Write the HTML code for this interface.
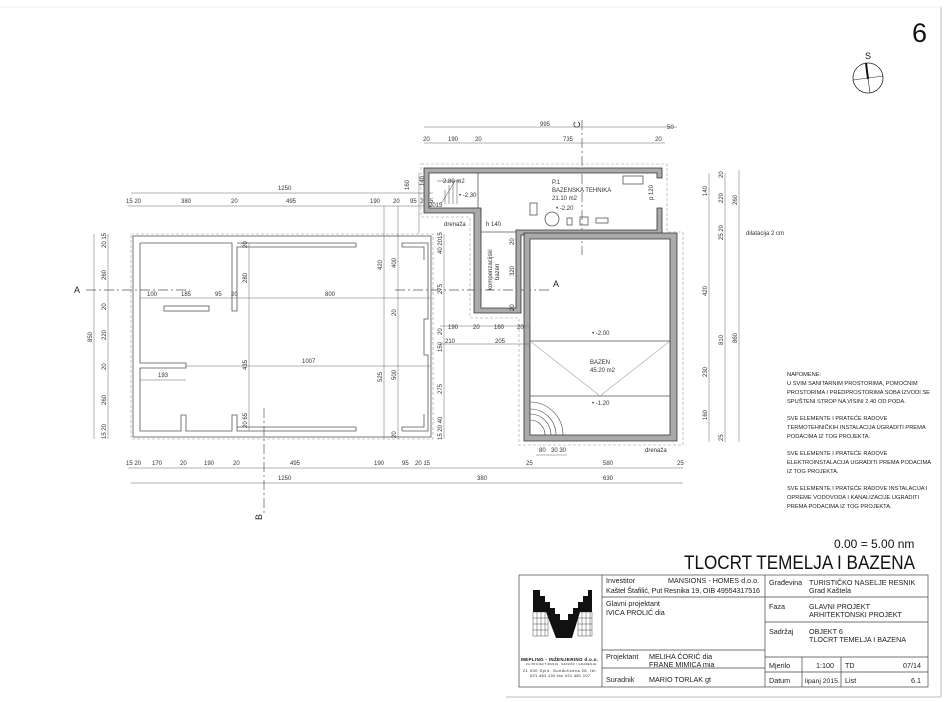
<!DOCTYPE html>
<html><head><meta charset="utf-8"><style>
html,body{margin:0;padding:0;background:#fff;}
svg{display:block;font-family:"Liberation Sans",sans-serif;}
.t{font-size:6px;fill:#333;}
.d{stroke:#666;stroke-width:0.5;fill:none;}
.w{stroke:#555;stroke-width:0.8;fill:none;}
.wall{fill:#aaa;stroke:#333;stroke-width:0.8;}
.dash{stroke:#999;stroke-width:0.6;fill:none;stroke-dasharray:3 2;}
.ax{stroke:#555;stroke-width:0.7;stroke-dasharray:10 3 2 3;fill:none;}
.n{font-size:5.7px;fill:#222;}
.tb{font-size:7.2px;fill:#222;}
</style></head><body>
<svg width="950" height="702" viewBox="0 0 950 702">
<line x1="941" y1="7" x2="941" y2="697" stroke="#aaa" stroke-width="0.8"/>
<line x1="0" y1="7" x2="941" y2="7" stroke="#ddd" stroke-width="0.6"/>
<line x1="506" y1="697" x2="941" y2="697" stroke="#aaa" stroke-width="0.8"/>
<text x="912" y="42" font-size="27" fill="#111">6</text>
<text x="865" y="59" font-size="9" fill="#111">S</text>
<circle cx="868" cy="78" r="15" fill="none" stroke="#222" stroke-width="0.8"/>
<line x1="853" y1="80" x2="883" y2="76" stroke="#222" stroke-width="0.6"/>
<line x1="866" y1="63" x2="870" y2="93" stroke="#222" stroke-width="0.6"/>
<line x1="866" y1="63" x2="868" y2="79" stroke="#111" stroke-width="2"/>

<!-- LEFT BUILDING -->
<rect x="131" y="234" width="302" height="205" class="dash"/>
<rect x="133" y="236" width="298" height="201" class="w"/>
<path class="w" d="M140 243 V363 H186 V368 H140 V431 H181 V415 H186 V431 H232 V415 H237 V431 H356 V427 H237"/>
<path class="w" d="M402 431 H428 V355 H424 V319 H428 V243 H402 V247 H424 V260 M402 431 V427 H424 V414"/>
<path class="w" d="M140 243 H232 V311 H237 V247 H356 V243 H237"/>
<rect x="164" y="306" width="45" height="5" class="w"/>
<line class="d" x1="131" y1="193" x2="433" y2="193"/><text class="t" x="278" y="190">1250</text>
<line class="d" x1="128" y1="206" x2="433" y2="206"/>
<text class="t" x="126" y="203">15 20</text><text class="t" x="181" y="203">380</text><text class="t" x="231" y="203">20</text><text class="t" x="286" y="203">495</text><text class="t" x="370" y="203">190</text><text class="t" x="393" y="203">20</text><text class="t" x="410" y="203">95</text><text class="t" x="420" y="203">2015</text>
<line class="d" x1="140" y1="298" x2="430" y2="298"/>
<text class="t" x="147" y="296">100</text><text class="t" x="181" y="296">185</text><text class="t" x="215" y="296">95</text><text class="t" x="231" y="296">20</text><text class="t" x="325" y="296">800</text>
<line class="d" x1="186" y1="366" x2="430" y2="366"/><text class="t" x="302" y="363">1007</text>
<line class="d" x1="140" y1="380" x2="186" y2="380"/><text class="t" x="158" y="377">193</text>
<line class="d" x1="94" y1="234" x2="94" y2="439"/><text class="t" transform="translate(92,342) rotate(-90)">850</text>
<line class="d" x1="108" y1="234" x2="108" y2="439"/>
<text class="t" transform="translate(106,248) rotate(-90)">20 15</text><text class="t" transform="translate(106,280) rotate(-90)">260</text><text class="t" transform="translate(106,310) rotate(-90)">20</text><text class="t" transform="translate(106,340) rotate(-90)">220</text><text class="t" transform="translate(106,370) rotate(-90)">20</text><text class="t" transform="translate(106,405) rotate(-90)">260</text><text class="t" transform="translate(106,439) rotate(-90)">15 20</text>
<line class="d" x1="249" y1="243" x2="249" y2="431"/>
<text class="t" transform="translate(247,248) rotate(-90)">20</text><text class="t" transform="translate(247,283) rotate(-90)">280</text><text class="t" transform="translate(247,370) rotate(-90)">435</text><text class="t" transform="translate(247,428) rotate(-90)">20 65</text>
<line class="d" x1="384" y1="206" x2="384" y2="439"/><line class="d" x1="398" y1="206" x2="398" y2="439"/>
<text class="t" transform="translate(382,270) rotate(-90)">420</text><text class="t" transform="translate(396,268) rotate(-90)">400</text><text class="t" transform="translate(396,316) rotate(-90)">20</text><text class="t" transform="translate(382,382) rotate(-90)">525</text><text class="t" transform="translate(396,380) rotate(-90)">500</text><text class="t" transform="translate(396,438) rotate(-90)">20</text>
<line class="d" x1="444" y1="234" x2="444" y2="439"/>
<text class="t" transform="translate(442,254) rotate(-90)">40 2015</text><text class="t" transform="translate(442,294) rotate(-90)">275</text><text class="t" transform="translate(442,335) rotate(-90)">20</text><text class="t" transform="translate(442,352) rotate(-90)">150</text><text class="t" transform="translate(442,394) rotate(-90)">275</text><text class="t" transform="translate(442,440) rotate(-90)">15 20 40</text>
<line class="d" x1="128" y1="468" x2="683" y2="468"/>
<text class="t" x="126" y="465">15 20</text><text class="t" x="152" y="465">170</text><text class="t" x="180" y="465">20</text><text class="t" x="204" y="465">190</text><text class="t" x="233" y="465">20</text><text class="t" x="290" y="465">495</text><text class="t" x="374" y="465">190</text><text class="t" x="402" y="465">95</text><text class="t" x="415" y="465">20 15</text><text class="t" x="526" y="465">25</text><text class="t" x="603" y="465">580</text><text class="t" x="677" y="465">25</text>
<line class="d" x1="131" y1="483" x2="683" y2="483"/>
<text class="t" x="278" y="480">1250</text><text class="t" x="477" y="480">380</text><text class="t" x="603" y="480">630</text>
<line class="d" x1="536" y1="455" x2="567" y2="455"/><text class="t" x="539" y="452">80</text><text class="t" x="551" y="452">30 30</text><text class="t" x="645" y="452">drenaža</text>
<line class="ax" x1="86" y1="290" x2="190" y2="290"/><line class="ax" x1="395" y1="290" x2="550" y2="290"/>
<text x="74" y="293" font-size="9" fill="#222">A</text><text x="553" y="287" font-size="9" fill="#222">A</text>
<line class="ax" x1="264" y1="408" x2="264" y2="515"/><text font-size="9" fill="#222" transform="translate(262,520) rotate(-90)">B</text>
<line class="ax" x1="582" y1="120" x2="582" y2="255"/><text font-size="9" fill="#222" transform="translate(580,128) rotate(-90)">C</text>

<!-- POOL BUILDING -->
<path class="dash" d="M421 164 H667 V232 H683 V445 H519 V318 H470 V217 H421 Z"/>
<path class="wall" d="M424 168 H662 V178 H657 V173 H429 V208 H481 V308 H516 V230 H657 V208 H662 V235 H521 V313 H474 V213 H424 Z"/>
<path class="wall" fill-rule="evenodd" d="M524 233 H677 V441 H524 Z M530 239 V435 H670 V239 Z"/>
<line class="w" x1="530" y1="341" x2="670" y2="341" stroke-width="0.5"/>
<line class="w" x1="530" y1="396" x2="670" y2="396" stroke-width="0.5"/>
<polyline points="530,341 600,396 670,341" fill="none" stroke="#777" stroke-width="0.5"/>
<path d="M530 420 A15 15 0 0 1 545 435 M530 414 A21 21 0 0 1 551 435 M530 409 A26 26 0 0 1 556 435 M530 402 A33 33 0 0 1 563 435" fill="none" stroke="#444" stroke-width="0.6"/>
<line class="w" x1="478" y1="173" x2="478" y2="208" stroke-width="0.5"/>
<line class="w" x1="481" y1="232" x2="516" y2="232" stroke-width="0.5"/>
<path d="M441 204 L455 181 M445 204 V190 M449 204 V185 M453 204 V181 M457 204 V181 M437 181 H460" stroke="#444" stroke-width="0.5" fill="none"/>
<text class="t" x="443" y="183">2.80 m2</text><text class="t" x="459" y="197">• -2.30</text><text class="t" x="429" y="207">2015</text>
<rect x="530" y="203" width="7" height="12" class="w" stroke-width="0.5"/>
<circle cx="552" cy="219" r="7" class="w" stroke-width="0.5"/>
<rect x="567" y="218" width="5" height="7" class="w" stroke-width="0.5"/>
<rect x="580" y="217" width="8" height="8" class="w" stroke-width="0.5"/>
<rect x="596" y="218" width="12" height="5" class="w" stroke-width="0.5"/>
<rect x="623" y="176" width="20" height="8" class="w" stroke-width="0.5"/>
<text class="t" x="552" y="184">P.1</text>
<text class="t" x="552" y="192">BAZENSKA TEHNIKA</text>
<text class="t" x="552" y="200">21.10 m2</text>
<text class="t" x="556" y="210">• -2.20</text>
<text class="t" transform="translate(653,200) rotate(-90)">p 120</text>
<text class="t" x="444" y="226">drenaža</text><text class="t" x="486" y="226">h 140</text>
<text class="t" transform="translate(492,290) rotate(-90)">kompenzacijski</text><text class="t" transform="translate(499,280) rotate(-90)">bazen</text>
<text class="t" transform="translate(514,245) rotate(-90)">20</text><text class="t" transform="translate(514,276) rotate(-90)">320</text><text class="t" transform="translate(514,311) rotate(-90)">20</text>
<text class="t" x="592" y="335">• -2.00</text>
<text class="t" x="590" y="364">BAZEN</text><text class="t" x="590" y="372">45.20 m2</text>
<text class="t" x="592" y="405">• -1.20</text>
<line class="d" x1="424" y1="127" x2="677" y2="127"/><text class="t" x="540" y="126">995</text><text class="t" x="667" y="129">50</text>
<line class="d" x1="424" y1="143" x2="665" y2="143"/>
<text class="t" x="423" y="141">20</text><text class="t" x="448" y="141">190</text><text class="t" x="475" y="141">20</text><text class="t" x="563" y="141">735</text><text class="t" x="655" y="141">20</text>
<line class="d" x1="419" y1="173" x2="419" y2="233"/>
<text class="t" transform="translate(409,190) rotate(-90)">160</text><text class="t" transform="translate(424,186) rotate(-90)">140</text>
<line class="d" x1="440" y1="326" x2="530" y2="326"/><text class="t" x="448" y="329">190</text><text class="t" x="473" y="329">20</text><text class="t" x="494" y="329">160</text><text class="t" x="517" y="329">20</text>
<line class="d" x1="440" y1="344" x2="530" y2="344"/><text class="t" x="445" y="343">210</text><text class="t" x="495" y="343">205</text>
<line class="d" x1="709" y1="173" x2="709" y2="442"/><line class="d" x1="725" y1="173" x2="725" y2="442"/><line class="d" x1="739" y1="170" x2="739" y2="442"/>
<text class="t" transform="translate(707,196) rotate(-90)">140</text><text class="t" transform="translate(707,296) rotate(-90)">420</text><text class="t" transform="translate(707,377) rotate(-90)">230</text><text class="t" transform="translate(707,420) rotate(-90)">160</text>
<text class="t" transform="translate(723,178) rotate(-90)">20</text><text class="t" transform="translate(723,203) rotate(-90)">220</text><text class="t" transform="translate(723,240) rotate(-90)">25 20</text><text class="t" transform="translate(723,345) rotate(-90)">810</text><text class="t" transform="translate(723,441) rotate(-90)">25</text>
<text class="t" transform="translate(737,205) rotate(-90)">260</text><text class="t" transform="translate(737,343) rotate(-90)">860</text>
<text class="t" x="746" y="235">dilatacija 2 cm</text>
<g class="n">
<text x="787" y="376">NAPOMENE:</text>
<text x="787" y="385">U SVIM SANITARNIM PROSTORIMA, POMOĆNIM</text>
<text x="787" y="394">PROSTORIMA I PREDPROSTORIMA SOBA IZVODI SE</text>
<text x="787" y="403">SPUŠTENI STROP NA VISINI 2.40 OD PODA.</text>
<text x="787" y="420">SVE ELEMENTE I PRATEĆE RADOVE</text>
<text x="787" y="429">TERMOTEHNIČKIH INSTALACIJA UGRADITI PREMA</text>
<text x="787" y="438">PODACIMA IZ TOG PROJEKTA.</text>
<text x="787" y="455">SVE ELEMENTE I PRATEĆE RADOVE</text>
<text x="787" y="464">ELEKTROINSTALACIJA UGRADITI PREMA PODACIMA</text>
<text x="787" y="473">IZ TOG PROJEKTA.</text>
<text x="787" y="490">SVE ELEMENTE I PRATEĆE RADOVE  INSTALACIJA I</text>
<text x="787" y="499">OPREME VODOVODA I KANALIZACIJE UGRADITI</text>
<text x="787" y="508">PREMA PODACIMA IZ TOG PROJEKTA.</text>
</g>
<text x="834" y="548" font-size="12" fill="#111">0.00 = 5.00 nm</text>
<text x="684" y="569" font-size="19.5" fill="#111" textLength="231" lengthAdjust="spacingAndGlyphs">TLOCRT  TEMELJA I BAZENA</text>
<g stroke="#444" stroke-width="0.7" fill="none">
<rect x="519" y="575" width="409" height="112"/>
<line x1="602" y1="575" x2="602" y2="687"/><line x1="765" y1="575" x2="765" y2="687"/>
<line x1="602" y1="597" x2="928" y2="597"/><line x1="602" y1="650" x2="765" y2="650"/><line x1="602" y1="668" x2="765" y2="668"/>
<line x1="765" y1="622" x2="928" y2="622"/><line x1="765" y1="657" x2="928" y2="657"/><line x1="765" y1="672" x2="928" y2="672"/>
<line x1="802" y1="657" x2="802" y2="687"/><line x1="841" y1="657" x2="841" y2="687"/>
</g>
<!-- logo -->
<polygon fill="#111" points="533,590 540,590 540,596 545,596 545,602 550,602 550,608 555,608 555,614 560,614 560,620 568,620 568,614 573,614 573,608 578,608 578,602 583,602 583,596 588,596 588,590 592,590 592,612 580,612 572,638 556,638 546,612 533,612"/>
<g stroke="#222" stroke-width="0.4" fill="none">
<rect x="533" y="612" width="15" height="24"/><rect x="578" y="612" width="14" height="24"/>
<path d="M537 612V636M541 612V636M545 612V636M533 618H548M533 624H548M533 630H548M582 612V636M586 612V636M590 612V636M578 618H592M578 624H592M578 630H592"/>
</g>
<text x="521" y="661" font-size="4.6" font-weight="bold" fill="#111" textLength="77">MEPLING - INŽENJERING d.o.o.</text>
<text x="526" y="665" font-size="2.6" fill="#111" textLength="70">ZA PROJEKTIRANJE, NADZOR I GRAĐENJE</text>
<text x="523" y="672" font-size="3.8" fill="#111" textLength="74">21 000 Split, Gundulićeva 26, tel.</text>
<text x="530" y="677" font-size="3.8" fill="#111" textLength="60">021 481 130 fax 021 481 107</text>
<g class="tb">
<text x="606" y="583">Investitor</text><text x="668" y="583">MANSIONS - HOMES d.o.o.</text>
<text x="606" y="593" textLength="154">Kaštel Štafilić, Put Resnika 19, OIB 49554317516</text>
<text x="606" y="606">Glavni projektant</text><text x="606" y="615">IVICA PROLIĆ dia</text>
<text x="606" y="659">Projektant</text><text x="649" y="659">MELIHA ĆORIĆ dia</text><text x="649" y="667">FRANE MIMICA mia</text>
<text x="606" y="682">Suradnik</text><text x="649" y="682">MARIO TORLAK gt</text>
<text x="769" y="585">Građevina</text><text x="809" y="585">TURISTIČKO NASELJE RESNIK</text><text x="809" y="593">Grad Kaštela</text>
<text x="769" y="609">Faza</text><text x="809" y="609">GLAVNI PROJEKT</text><text x="809" y="617">ARHITEKTONSKI PROJEKT</text>
<text x="769" y="634">Sadržaj</text><text x="809" y="634">OBJEKT 6</text><text x="809" y="642">TLOCRT TEMELJA  I BAZENA</text>
<text x="769" y="668">Mjerilo</text><text x="816" y="668">1:100</text><text x="845" y="668">TD</text><text x="903" y="668">07/14</text>
<text x="769" y="683">Datum</text><text x="805" y="683" font-size="6.8">lipanj 2015.</text><text x="845" y="683">List</text><text x="911" y="683">6.1</text>
</g>
</svg>
</body></html>
